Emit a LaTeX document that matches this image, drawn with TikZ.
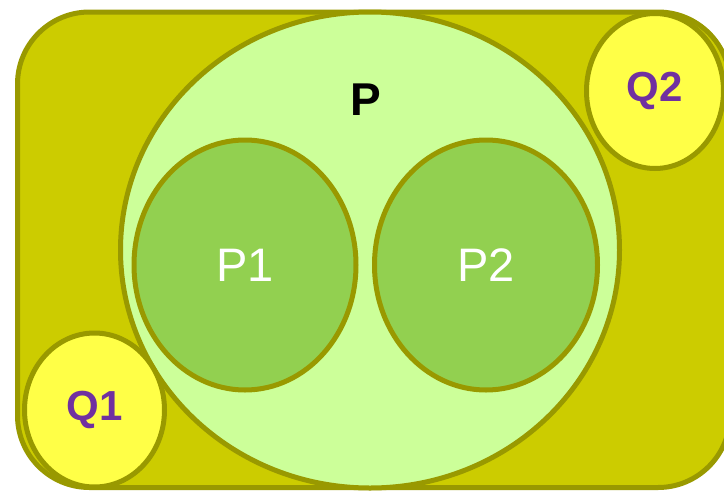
\documentclass[tikz,border=0pt]{standalone}
\usepackage{fontspec}
\setmainfont{Liberation Sans}
\usetikzlibrary{shapes.geometric}
\definecolor{olivefill}{HTML}{CCCC00}
\definecolor{oliveline}{HTML}{999900}
\definecolor{paleset}{HTML}{CCFF99}
\definecolor{greenset}{HTML}{92D050}
\definecolor{yellowset}{HTML}{FFFF47}
\definecolor{purpletext}{HTML}{7030A0}
\begin{document}
\begin{tikzpicture}[x=1pt,y=-1pt,
  setline/.style={draw=oliveline,line width=5pt},
  setshape/.style={setline,ellipse,inner sep=0pt},
  bigset/.style={setshape,fill=paleset,font=\bfseries\fontsize{46}{46}\selectfont},
  subset/.style={setshape,fill=greenset,text=white,font=\fontsize{47}{47}\selectfont},
  outset/.style={setshape,fill=yellowset,text=purpletext,font=\bfseries\fontsize{42}{42}\selectfont}]
\useasboundingbox (0,0) rectangle (724,491);
\clip (0,0) rectangle (724,491);
% universe
\draw[setline,fill=olivefill,rounded corners=72pt] (17.5,12) rectangle (730,487.5);
% main set P with its two parts
\node[bigset,minimum width=499pt,minimum height=476pt] (P) at (370,250) {};
\node[font=\bfseries\fontsize{46}{46}\selectfont] (Plabel) at (366,100) {P};
\node[subset,minimum width=222pt,minimum height=250pt] (P1) at (245,265) {P1};
\node[subset,minimum width=223pt,minimum height=250pt] (P2) at (486,265) {P2};
% outside sets
\node[outset,minimum width=140pt,minimum height=154pt] (Q1) at (94.5,410) {Q1};
\node[outset,minimum width=137pt,minimum height=155pt] (Q2) at (655,91) {Q2};
\end{tikzpicture}
\end{document}
